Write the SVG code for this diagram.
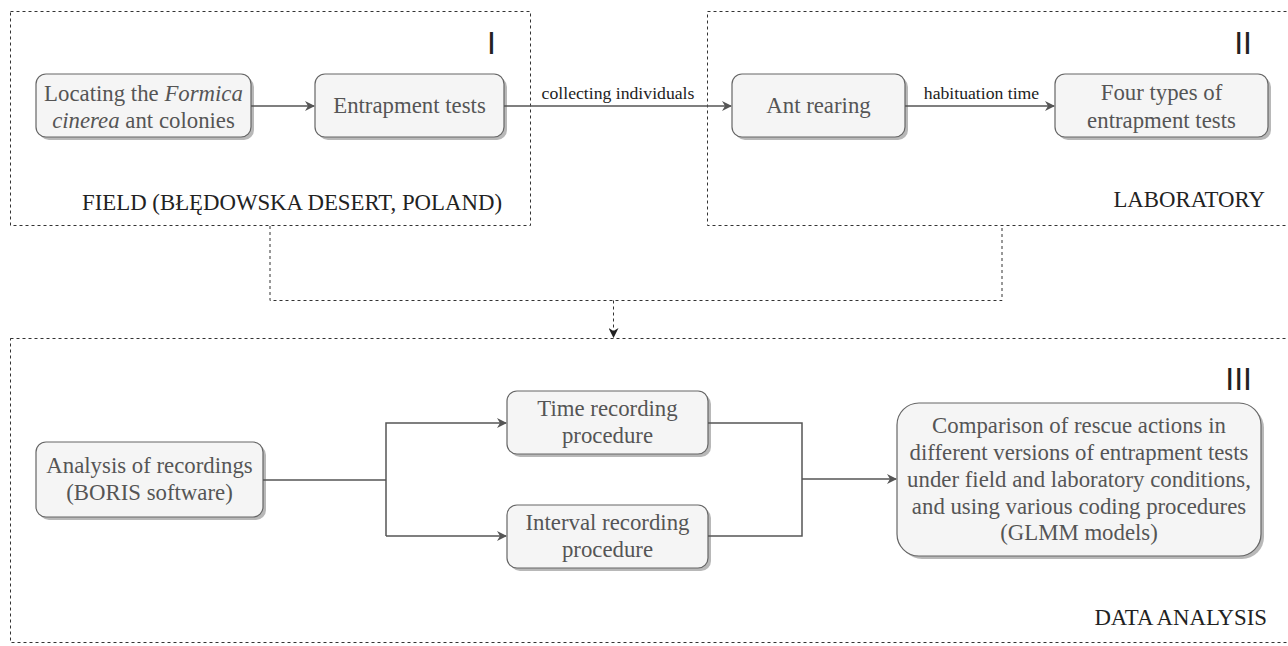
<svg xmlns="http://www.w3.org/2000/svg" width="1288" height="646" viewBox="0 0 1288 646">
<defs>
<style>
.cont{fill:none;stroke:#333;stroke-width:1;stroke-dasharray:3 3}
.sh{fill:#b8b8b8}
.box{fill:#f5f5f5;stroke:#666;stroke-width:1.2}
.bt{font-family:"Liberation Serif","Times New Roman",serif;font-size:22.8px;fill:#555;text-anchor:middle}
.lab{font-family:"Liberation Serif","Times New Roman",serif;font-size:22.8px;fill:#222;text-anchor:end}
.el{font-family:"Liberation Serif","Times New Roman",serif;font-size:17.7px;fill:#222;text-anchor:middle}
.rn{font-family:"Liberation Sans",Arial,sans-serif;font-size:32px;fill:#222;text-anchor:end}
.ln{fill:none;stroke:#555;stroke-width:1.5}
.dl{fill:none;stroke:#333;stroke-width:1;stroke-dasharray:3 3}
</style>
<marker id="ar" viewBox="0 0 10 10" refX="9" refY="5" markerWidth="10" markerHeight="10" markerUnits="userSpaceOnUse" orient="auto">
<path d="M0,0 L10,5 L0,10 L3,5 Z" fill="#555"/>
</marker>
<marker id="ard" viewBox="0 0 10 10" refX="9" refY="5" markerWidth="10" markerHeight="10" markerUnits="userSpaceOnUse" orient="auto">
<path d="M0,0 L10,5 L0,10 L3,5 Z" fill="#222"/>
</marker>
</defs>

<g id="field">
<rect class="cont" x="10.5" y="11.5" width="520" height="214"/>
<text class="rn" x="496" y="54">I</text>
<text class="lab" x="502" y="210">FIELD (BŁĘDOWSKA DESERT, POLAND)</text>
</g>
<g id="laboratory">
<rect class="cont" x="707.5" y="11.5" width="590" height="214"/>
<text class="rn" x="1252" y="54">II</text>
<text class="lab" x="1265" y="207">LABORATORY</text>
</g>
<g id="data-analysis">
<rect class="cont" x="10.5" y="338.5" width="1287" height="304"/>
<text class="rn" x="1252" y="390">III</text>
<text class="lab" x="1267" y="625">DATA ANALYSIS</text>
</g>

<g id="locating">
<rect class="sh" x="39" y="77" width="215" height="63" rx="10"/>
<rect class="box" x="36" y="74" width="215" height="63" rx="10"/>
<text class="bt" x="143.5" y="101">Locating the <tspan font-style="italic">Formica</tspan></text>
<text class="bt" x="143.5" y="128"><tspan font-style="italic">cinerea</tspan> ant colonies</text>
</g>
<g id="entrapment">
<rect class="sh" x="318" y="77" width="189" height="63" rx="10"/>
<rect class="box" x="315" y="74" width="189" height="63" rx="10"/>
<text class="bt" x="409.5" y="113">Entrapment tests</text>
</g>
<g id="ant-rearing">
<rect class="sh" x="735" y="77" width="173" height="63" rx="10"/>
<rect class="box" x="732" y="74" width="173" height="63" rx="10"/>
<text class="bt" x="818.5" y="113">Ant rearing</text>
</g>
<g id="four-types">
<rect class="sh" x="1058" y="77" width="213" height="63" rx="10"/>
<rect class="box" x="1055" y="74" width="213" height="63" rx="10"/>
<text class="bt" x="1161.5" y="100">Four types of</text>
<text class="bt" x="1161.5" y="128">entrapment tests</text>
</g>
<g id="analysis">
<rect class="sh" x="39" y="445" width="227" height="75" rx="10"/>
<rect class="box" x="36" y="442" width="227" height="75" rx="10"/>
<text class="bt" x="149.5" y="473">Analysis of recordings</text>
<text class="bt" x="149.5" y="500">(BORIS software)</text>
</g>
<g id="time-recording">
<rect class="sh" x="510" y="394" width="201" height="63" rx="10"/>
<rect class="box" x="507" y="391" width="201" height="63" rx="10"/>
<text class="bt" x="607.5" y="416">Time recording</text>
<text class="bt" x="607.5" y="443">procedure</text>
</g>
<g id="interval-recording">
<rect class="sh" x="510" y="508" width="201" height="63" rx="10"/>
<rect class="box" x="507" y="505" width="201" height="63" rx="10"/>
<text class="bt" x="607.5" y="530">Interval recording</text>
<text class="bt" x="607.5" y="557">procedure</text>
</g>
<g id="comparison">
<rect class="sh" x="900" y="406" width="364" height="153" rx="22"/>
<rect class="box" x="897" y="403" width="364" height="153" rx="22"/>
<text class="bt" x="1079" y="433">Comparison of rescue actions in</text>
<text class="bt" x="1079" y="460">different versions of entrapment tests</text>
<text class="bt" x="1079" y="487">under field and laboratory conditions,</text>
<text class="bt" x="1079" y="514">and using various coding procedures</text>
<text class="bt" x="1079" y="540">(GLMM models)</text>
</g>

<g id="connectors">
<line class="ln" x1="251" y1="106" x2="314" y2="106" marker-end="url(#ar)"/>
<line class="ln" x1="504" y1="106" x2="731" y2="106" marker-end="url(#ar)"/>
<text class="el" x="618" y="99">collecting individuals</text>
<line class="ln" x1="905" y1="106" x2="1054" y2="106" marker-end="url(#ar)"/>
<text class="el" x="981.5" y="99">habituation time</text>
<polyline class="dl" points="270,226 270,300.5 1002,300.5 1002,226"/>
<line class="dl" x1="613.5" y1="300.5" x2="613.5" y2="337" marker-end="url(#ard)"/>
<polyline class="ln" points="263,480 386,480"/>
<polyline class="ln" points="386,536 386,423 506,423" marker-end="url(#ar)"/>
<polyline class="ln" points="386,536 506,536" marker-end="url(#ar)"/>
<polyline class="ln" points="708,423 802,423 802,536 708,536"/>
<line class="ln" x1="802" y1="479" x2="896" y2="479" marker-end="url(#ar)"/>
</g>
</svg>
